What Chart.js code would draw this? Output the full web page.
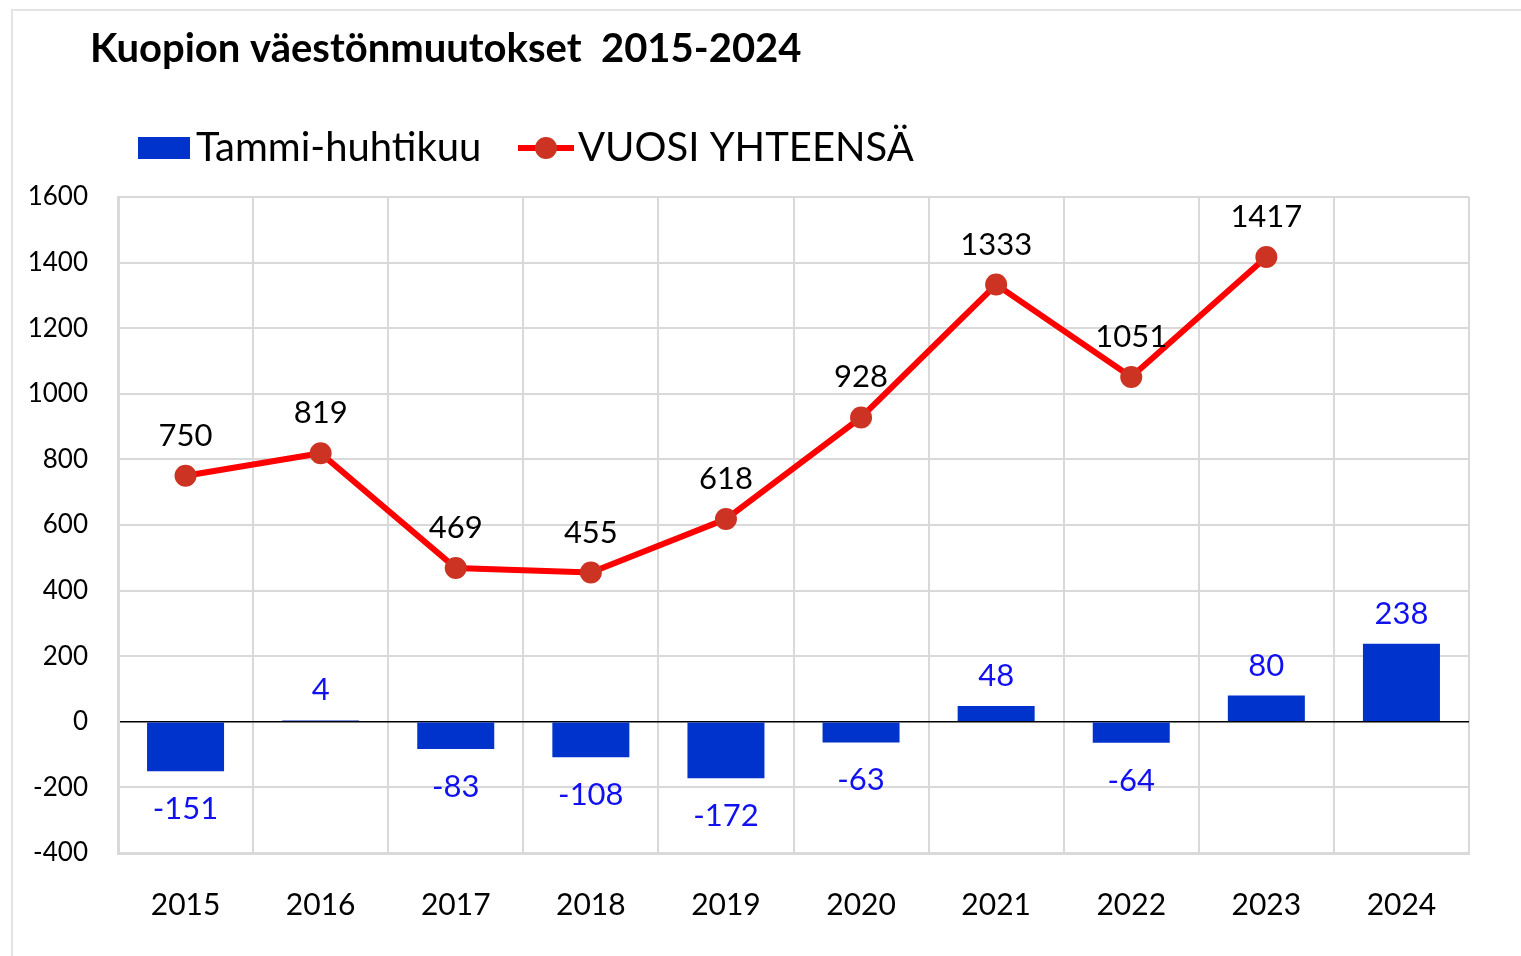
<!DOCTYPE html>
<html>
<head>
<meta charset="utf-8">
<script src="https://cdn.jsdelivr.net/npm/chart.js@4.4.1/dist/chart.umd.min.js"></script>
<style>
  html, body { margin: 0; padding: 0; background: #fff; }
  #wrap { position: relative; width: 1521px; height: 956px; overflow: hidden; }
  #frame { position: absolute; left: 11px; top: 9px; right: -5px; bottom: -5px;
           border-left: 2px solid #e4e4e4; border-top: 2px solid #e4e4e4; }
  canvas { position: absolute; left: 0; top: 0; }
</style>
</head>
<body>
<div id="wrap">
  <div id="frame"></div>
  <canvas id="chart" width="1521" height="956"></canvas>
</div>
<script>
var otsikko = 'Kuopion väestönmuutokset  2015-2024';
var vuodet = ['2015', '2016', '2017', '2018', '2019', '2020', '2021', '2022', '2023', '2024'];
var tammiHuhti = [-151, 4, -83, -108, -172, -63, 48, -64, 80, 238];
var vuosiYht = [750, 819, 469, 455, 618, 928, 1333, 1051, 1417, null];
var sarjaNimet = ['Tammi-huhtikuu', 'VUOSI YHTEENSÄ'];
var yMin = -400, yMax = 1600, yAskel = 200;

var fontti = 'Lato, "Open Sans", sans-serif';
var sininen = '#0033cc';
var punainen = '#ff0000';
var pallo = '#cc3322';

// otsikko + selite piirretään itse
var otsikkoPlugin = {
  id: 'otsikko',
  afterDraw(chart) {
    const ctx = chart.ctx;
    ctx.save();
    ctx.fillStyle = '#000';
    ctx.textBaseline = 'alphabetic';
    ctx.textAlign = 'left';
    ctx.font = 'bold 40px ' + fontti;
    ctx.fillText(otsikko, 90, 62);

    // selite
    ctx.fillStyle = sininen;
    ctx.fillRect(138, 137, 52, 22);
    ctx.font = '40px ' + fontti;
    ctx.fillStyle = '#000';
    ctx.textBaseline = 'middle';
    ctx.fillText(sarjaNimet[0], 196, 148);

    ctx.strokeStyle = punainen;
    ctx.lineWidth = 6;
    ctx.beginPath();
    ctx.moveTo(518, 148);
    ctx.lineTo(574, 148);
    ctx.stroke();
    ctx.fillStyle = pallo;
    ctx.beginPath();
    ctx.arc(546, 148, 11, 0, Math.PI * 2);
    ctx.fill();
    ctx.fillStyle = '#000';
    ctx.fillText(sarjaNimet[1], 578, 148);
    ctx.restore();
  }
};

// arvot pisteiden ja pylväiden viereen
var arvoPlugin = {
  id: 'arvot',
  afterDatasetsDraw(chart) {
    const ctx = chart.ctx;
    ctx.save();
    ctx.textAlign = 'center';
    ctx.textBaseline = 'middle';
    ctx.font = '31px ' + fontti;
    chart.data.datasets.forEach(function (ds, i) {
      const meta = chart.getDatasetMeta(i);
      meta.data.forEach(function (el, j) {
        const v = ds.data[j];
        if (v === null || v === undefined) return;
        let y;
        if (ds.type === 'line') {
          ctx.fillStyle = '#000';
          y = el.y - 40;
        } else {
          ctx.fillStyle = '#1010f0';
          y = v < 0 ? el.y + 38 : el.y - 30;
        }
        ctx.fillText(String(v), el.x, y);
      });
    });
    ctx.restore();
  }
};

var ctx = document.getElementById('chart');
var kaavio = new Chart(ctx, {
  data: {
    labels: vuodet,
    datasets: [{
      type: 'line',
      label: sarjaNimet[1],
      data: vuosiYht,
      borderColor: punainen,
      borderWidth: 6,
      pointRadius: 11,
      pointHoverRadius: 11,
      pointBackgroundColor: pallo,
      pointBorderWidth: 0,
      tension: 0,
      fill: false,
      order: 0
    }, {
      type: 'bar',
      label: sarjaNimet[0],
      data: tammiHuhti,
      backgroundColor: sininen,
      categoryPercentage: 1,
      barPercentage: 0.57,
      order: 1
    }]
  },
  options: {
    responsive: false,
    animation: false,
    layout: { padding: { top: 197, right: 52, bottom: 0, left: 0 } },
    plugins: {
      legend: { display: false },
      title: { display: false },
      tooltip: { enabled: false }
    },
    scales: {
      x: {
        grid: { color: '#d9d9d9', lineWidth: 2, drawTicks: false, offset: true },
        border: { color: '#d9d9d9', width: 3 },
        ticks: { color: '#000', font: { family: fontti, size: 30 }, padding: 34 },
        afterFit(s) { s.height = 103; }
      },
      y: {
        min: yMin,
        max: yMax,
        ticks: {
          stepSize: yAskel,
          color: '#000',
          font: { family: fontti, size: 26 },
          padding: 30,
          callback: function (v) { return String(v); }
        },
        grid: {
          drawTicks: false,
          lineWidth: function (c) { return c.tick && c.tick.value === 0 ? 1.5 : 2; },
          color: function (c) { return c.tick && c.tick.value === 0 ? '#000' : '#d9d9d9'; }
        },
        border: { color: '#d9d9d9', width: 3 },
        afterFit(s) { s.width = 118; }
      }
    }
  },
  plugins: [otsikkoPlugin, arvoPlugin]
});
</script>
</body>
</html>
